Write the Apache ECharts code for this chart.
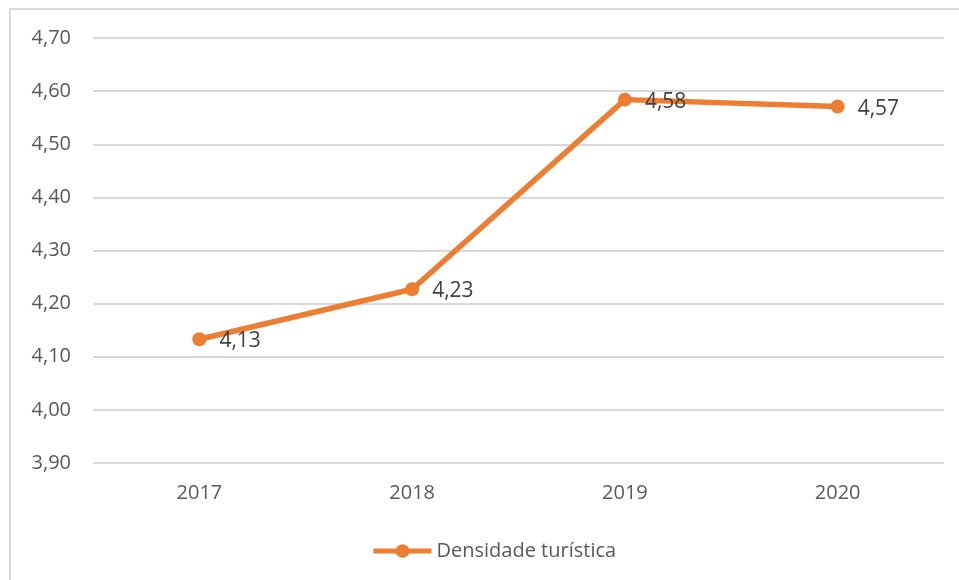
<!DOCTYPE html>
<html>
<head>
<meta charset="utf-8">
<script src="https://cdn.jsdelivr.net/npm/echarts@6/dist/echarts.min.js"></script>
<style>
  html, body { margin: 0; padding: 0; background: #fff; }
  #wrap { position: relative; width: 959px; height: 580px; overflow: hidden; }
  #frame {
    position: absolute; left: 9px; top: 8px; width: 1000px; height: 620px;
    border: 2px solid #d9d9d9; box-sizing: border-box;
  }
  #chart { position: absolute; left: 0; top: 0; width: 959px; height: 580px; }
</style>
</head>
<body>
<div id="wrap">
  <div id="frame"></div>
  <div id="chart"></div>
</div>
<script>
// dados
const years = ['2017', '2018', '2019', '2020']
const densidade = [4.133, 4.227, 4.584, 4.571]
const seriesName = 'Densidade turística'

const fontFamily = '"Open Sans", "Liberation Sans", sans-serif'
const orange = '#ed7d31'

function fmt(v) {
  return Number(v).toFixed(2).replace('.', ',')
}

const chart = echarts.init(document.getElementById('chart'))

chart.setOption({
  animation: false,
  grid: { left: 93, right: 15, top: 38, bottom: 117 },
  legend: {
    data: [seriesName],
    top: 536,
    left: 366,
    itemWidth: 58,
    itemHeight: 17,
    itemGap: 6,
    lineStyle: { width: 5 },
    textStyle: { color: '#595959', fontSize: 20, fontFamily: fontFamily, padding: [0, 0, 0, 0] }
  },
  xAxis: {
    type: 'category',
    data: years,
    boundaryGap: true,
    axisLine: { show: false },
    axisTick: { show: false },
    axisLabel: { color: '#595959', fontSize: 20, fontFamily: fontFamily, margin: 20 }
  },
  yAxis: {
    type: 'value',
    min: 3.9,
    max: 4.7,
    interval: 0.1,
    axisLine: { show: false },
    axisTick: { show: false },
    splitLine: { lineStyle: { color: '#d9d9d9', width: 2 } },
    axisLabel: {
      color: '#595959', fontSize: 20, fontFamily: fontFamily, margin: 22,
      formatter: fmt
    }
  },
  series: [{
    name: seriesName,
    type: 'line',
    data: densidade,
    symbol: 'circle',
    symbolSize: 14,
    lineStyle: { color: orange, width: 5.5 },
    itemStyle: { color: orange },
    label: {
      show: true,
      position: 'right',
      distance: 13,
      offset: [0, 2],
      color: '#404040',
      fontSize: 21,
      fontFamily: fontFamily,
      formatter: p => fmt(p.value)
    }
  }]
})
</script>
</body>
</html>
